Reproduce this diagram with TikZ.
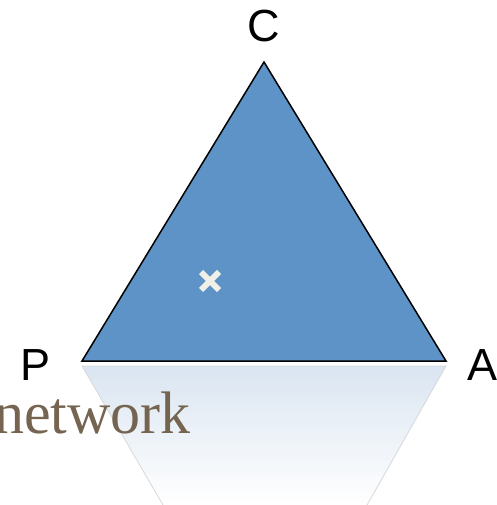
\documentclass[tikz,border=0pt]{standalone}
\usepackage{fontspec}
\setmainfont{Liberation Serif}
\newfontfamily\labelfont{Liberation Sans}
\definecolor{trifill}{RGB}{94, 147, 199}
\definecolor{reflblue}{RGB}{218, 229, 241}
\definecolor{refledge}{RGB}{214, 216, 218}
\definecolor{crossgrey}{RGB}{241, 240, 232}
\definecolor{wordbrown}{RGB}{117, 101, 80}
\usetikzlibrary{positioning, calc}

\begin{document}
\begin{tikzpicture}[x=1pt, y=-1pt,
    vertexlabel/.style={font=\labelfont\fontsize{45}{54}\selectfont, inner sep=0pt}]
                \useasboundingbox (0,0) rectangle (496,505);
                \clip (0,0) rectangle (496,505);

                % Corners
                \coordinate (C) at (264, 62);
                \coordinate (P) at (82, 361);
                \coordinate (A) at (446, 361);

                % Reflection below the base
                \coordinate (RP) at (82, 366);
                \coordinate (RA) at (446, 366);
                \coordinate (RPb) at (163, 505);
                \coordinate (RAb) at (367, 505);
                \shade[top color=reflblue, bottom color=white] (RP) -- (RA) -- (RAb) -- (RPb) -- cycle;
                \draw[refledge, line width=0.8] (RPb) -- (RP) -- (RA) -- (RAb);

                % Word behind
                \node[anchor=base west, inner sep=0pt, text=wordbrown,
                      font=\fontsize{60}{72}\selectfont] (word) at (-6, 433) {network};

                % Triangle
                \filldraw[fill=trifill, draw=black, line width=1.5, line join=miter] (P) -- (C) -- (A) -- cycle;

                % Corner labels
                \node[vertexlabel] (lblC) at (264, 26) {C};
                \node[vertexlabel] (lblP) at (36, 365) {P};
                \node[vertexlabel] (lblA) at (482, 365) {A};

                % Cross mark
                \coordinate (X) at (210, 281);
                \draw[crossgrey, line width=6] ($(X)+(-9,-9)$) -- ($(X)+(9,9)$);
                \draw[crossgrey, line width=6] ($(X)+(-9,9)$) -- ($(X)+(9,-9)$);
\end{tikzpicture}
\end{document}
